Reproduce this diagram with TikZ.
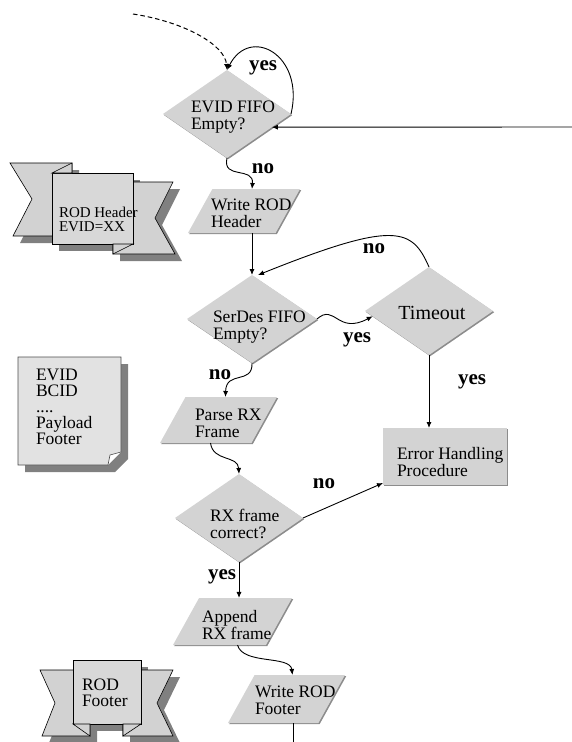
\documentclass[tikz,border=0pt]{standalone}
\usepackage{fontspec}
\setmainfont{Liberation Serif}
\usetikzlibrary{shapes.geometric,arrows.meta,calc,shadows}
\definecolor{shapefill}{RGB}{211,211,211}
\definecolor{ribfill}{RGB}{210,210,210}
\definecolor{ribsq}{RGB}{216,216,216}
\definecolor{docfill}{RGB}{226,226,226}
\definecolor{shadowgray}{RGB}{128,128,128}
\begin{document}
\begin{tikzpicture}[x=1pt,y=-1pt,
  every node/.style={inner sep=0pt,outer sep=0pt},
  softshadow/.style={drop shadow={shadow xshift=1.2pt,shadow yshift=-1.2pt,fill=black!45,opacity=1}},
  dia/.style={diamond,fill=shapefill,minimum width=128pt,minimum height=88pt,softshadow},
  para/.style={trapezium,trapezium left angle=61,trapezium right angle=119,trapezium stretches body,
    fill=shapefill,text height=45pt,text depth=0pt,softshadow},
  procbox/.style={rectangle,fill=shapefill,minimum width=124pt,minimum height=57pt,softshadow},
  txt/.style={align=left,anchor=west,font=\fontsize{17.5}{17}\selectfont},
  smalltxt/.style={align=left,anchor=west,font=\fontsize{15}{14}\selectfont},
  lbl/.style={font=\bfseries\fontsize{21}{21}\selectfont},
  conn/.style={line width=0.9pt,-{Latex[length=6pt,width=5pt]}},
  ribbon/.style={fill=ribfill,draw=black,line width=0.6pt},
  ribbonsq/.style={fill=ribsq,draw=black,line width=0.6pt},
  docst/.style={fill=docfill,draw=black!70,line width=0.6pt},
]
\useasboundingbox (0,0) rectangle (572,742);

% ---------- ROD Header ribbon ----------
\begin{scope}[shift={(7,7)}]
\fill[shadowgray] (10,163) -- (72,163) -- (72,236) -- (13,236) -- (32,199) -- cycle;
\fill[shadowgray] (113,182) -- (173,182) -- (155,218) -- (175,254) -- (113,254) -- cycle;
\fill[shadowgray] (52,173) rectangle (133,244);
\end{scope}
\draw[ribbon] (10,163) -- (72,163) -- (72,236) -- (13,236) -- (32,199) -- cycle;
\draw[ribbon] (113,182) -- (173,182) -- (155,218) -- (175,254) -- (113,254) -- cycle;
\draw[ribbonsq] (52,173) rectangle (133,244);
\draw[ribbon] (52,173) -- (72,163) -- (72,173) -- cycle;
\draw[ribbon] (113,244) -- (133,244) -- (113,254) -- cycle;
\node[smalltxt] (hdrtxt) at (59,219) {ROD Header\\EVID=XX};

% ---------- document ----------
\fill[shadowgray,shift={(7,7)}] (18,357) -- (121,357) -- (121,452) -- (108,465) -- (18,465) -- cycle;
\draw[docst] (18,357) -- (121,357) -- (121,452) -- (108,465) -- (18,465) -- cycle;
\draw[docst,fill=white] (121,452) -- (110,455) -- (108,465);
\node[txt,font=\fontsize{17.5}{16}\selectfont] (doctxt) at (36,407) {EVID\\BCID\\....\\Payload\\Footer};

% ---------- ROD Footer ribbon ----------
\begin{scope}[shift={(7,7)}]
\fill[shadowgray] (40,670) -- (90,670) -- (90,736) -- (42,736) -- (55,703) -- cycle;
\fill[shadowgray] (123,670) -- (173,670) -- (157,703) -- (173,736) -- (123,736) -- cycle;
\fill[shadowgray] (73,660) rectangle (141,724);
\end{scope}
\draw[ribbon] (40,670) -- (90,670) -- (90,736) -- (42,736) -- (55,703) -- cycle;
\draw[ribbon] (123,670) -- (173,670) -- (157,703) -- (173,736) -- (123,736) -- cycle;
\draw[ribbonsq] (73,660) rectangle (141,724);
\draw[ribbon] (73,724) -- (90,736) -- (90,724) -- cycle;
\draw[ribbon] (141,724) -- (123,736) -- (123,724) -- cycle;
\node[txt,font=\fontsize{17.5}{16}\selectfont] (ftrtxt) at (82,693) {ROD\\Footer};

% ---------- flow shapes ----------
\node[dia] (d1) at (227,114) {};
\node[txt] (d1t) at (191,117) {EVID FIFO\\Empty?};

\node[para,minimum width=112pt,text height=44pt] (p1) at (244,211) {};
\node[txt] (p1t) at (211,213) {Write ROD\\Header};

\node[dia,minimum width=130pt] (d2) at (252,319) {};
\node[txt] (d2t) at (213,327) {SerDes FIFO\\Empty?};

\node[dia] (d3) at (429,311) {};
\node[font=\fontsize{20}{20}\selectfont] (d3t) at (432,313) {Timeout};

\node[procbox] (box) at (445,456.5) {};
\node[txt] (boxt) at (397,462) {Error Handling\\Procedure};

\node[para,minimum width=117pt,text height=46pt] (p2) at (218.5,420) {};
\node[txt] (p2t) at (195,423) {Parse RX\\Frame};

\node[dia] (d4) at (239,518) {};
\node[txt] (d4t) at (210,524) {RX frame\\correct?};

\node[para,minimum width=119pt,text height=47pt] (p3) at (232.5,621.5) {};
\node[txt] (p3t) at (202,625.5) {Append\\RX frame};

\node[para,minimum width=117pt,text height=48pt] (p4) at (286.5,699) {};
\node[txt] (p4t) at (255,700.5) {Write ROD\\Footer};

% ---------- connectors ----------
\coordinate (dstart) at (133,14);
\coordinate (rin) at (572,127);
\coordinate (pend) at (293,742);

\draw[conn,dash pattern=on 4.5pt off 3pt,line width=1pt] (dstart) .. controls (185,22) and (225,45) .. (d1.north);
\draw[conn] (d1.east) .. controls (305,55) and (250,25) .. (d1.north);
\draw[conn] (rin) -- ($(d1.east)!0.3!(d1.south)$);
\draw[conn] (d1.south) .. controls (222,180) and (254,166) .. ([xshift=8pt]p1.north);
\draw[conn] (p1.south -| d2.north) -- (d2.north);
\draw[conn] (d3.north) .. controls (412,228) and (395,220) .. ([xshift=6pt]d2.north);
\draw[conn] (d2.east) .. controls (335,303) and (337,335) .. ($(d3.west)!0.12!(d3.south)$);
\draw[conn] (d3.south) -- (d3.south |- box.north);
\draw[conn] (d2.south) .. controls (253,385) and (226,370) .. ([xshift=7pt]p2.north);
\draw[conn] ([xshift=-8pt]p2.south) .. controls (213,462) and (238,455) .. (d4.north);
\draw[conn] (d4.east) -- ($(box.south west)+(0,-2)$);
\draw[conn] (d4.south) -- (d4.south |- p3.north);
\draw[conn] ([xshift=5pt]p3.south) .. controls (243,665) and (290,655) .. ([xshift=6pt]p4.north);
\draw[line width=0.9pt] (p4.south -| pend) -- (pend);

% ---------- labels ----------
\node[lbl] (l1) at (263,68) {yes};
\node[lbl] (l2) at (263,169) {no};
\node[lbl] (l3) at (374,249) {no};
\node[lbl] (l4) at (357,340) {yes};
\node[lbl] (l5) at (220,375) {no};
\node[lbl] (l6) at (472,382) {yes};
\node[lbl] (l7) at (324,484) {no};
\node[lbl] (l8) at (222,577) {yes};
\end{tikzpicture}
\end{document}
